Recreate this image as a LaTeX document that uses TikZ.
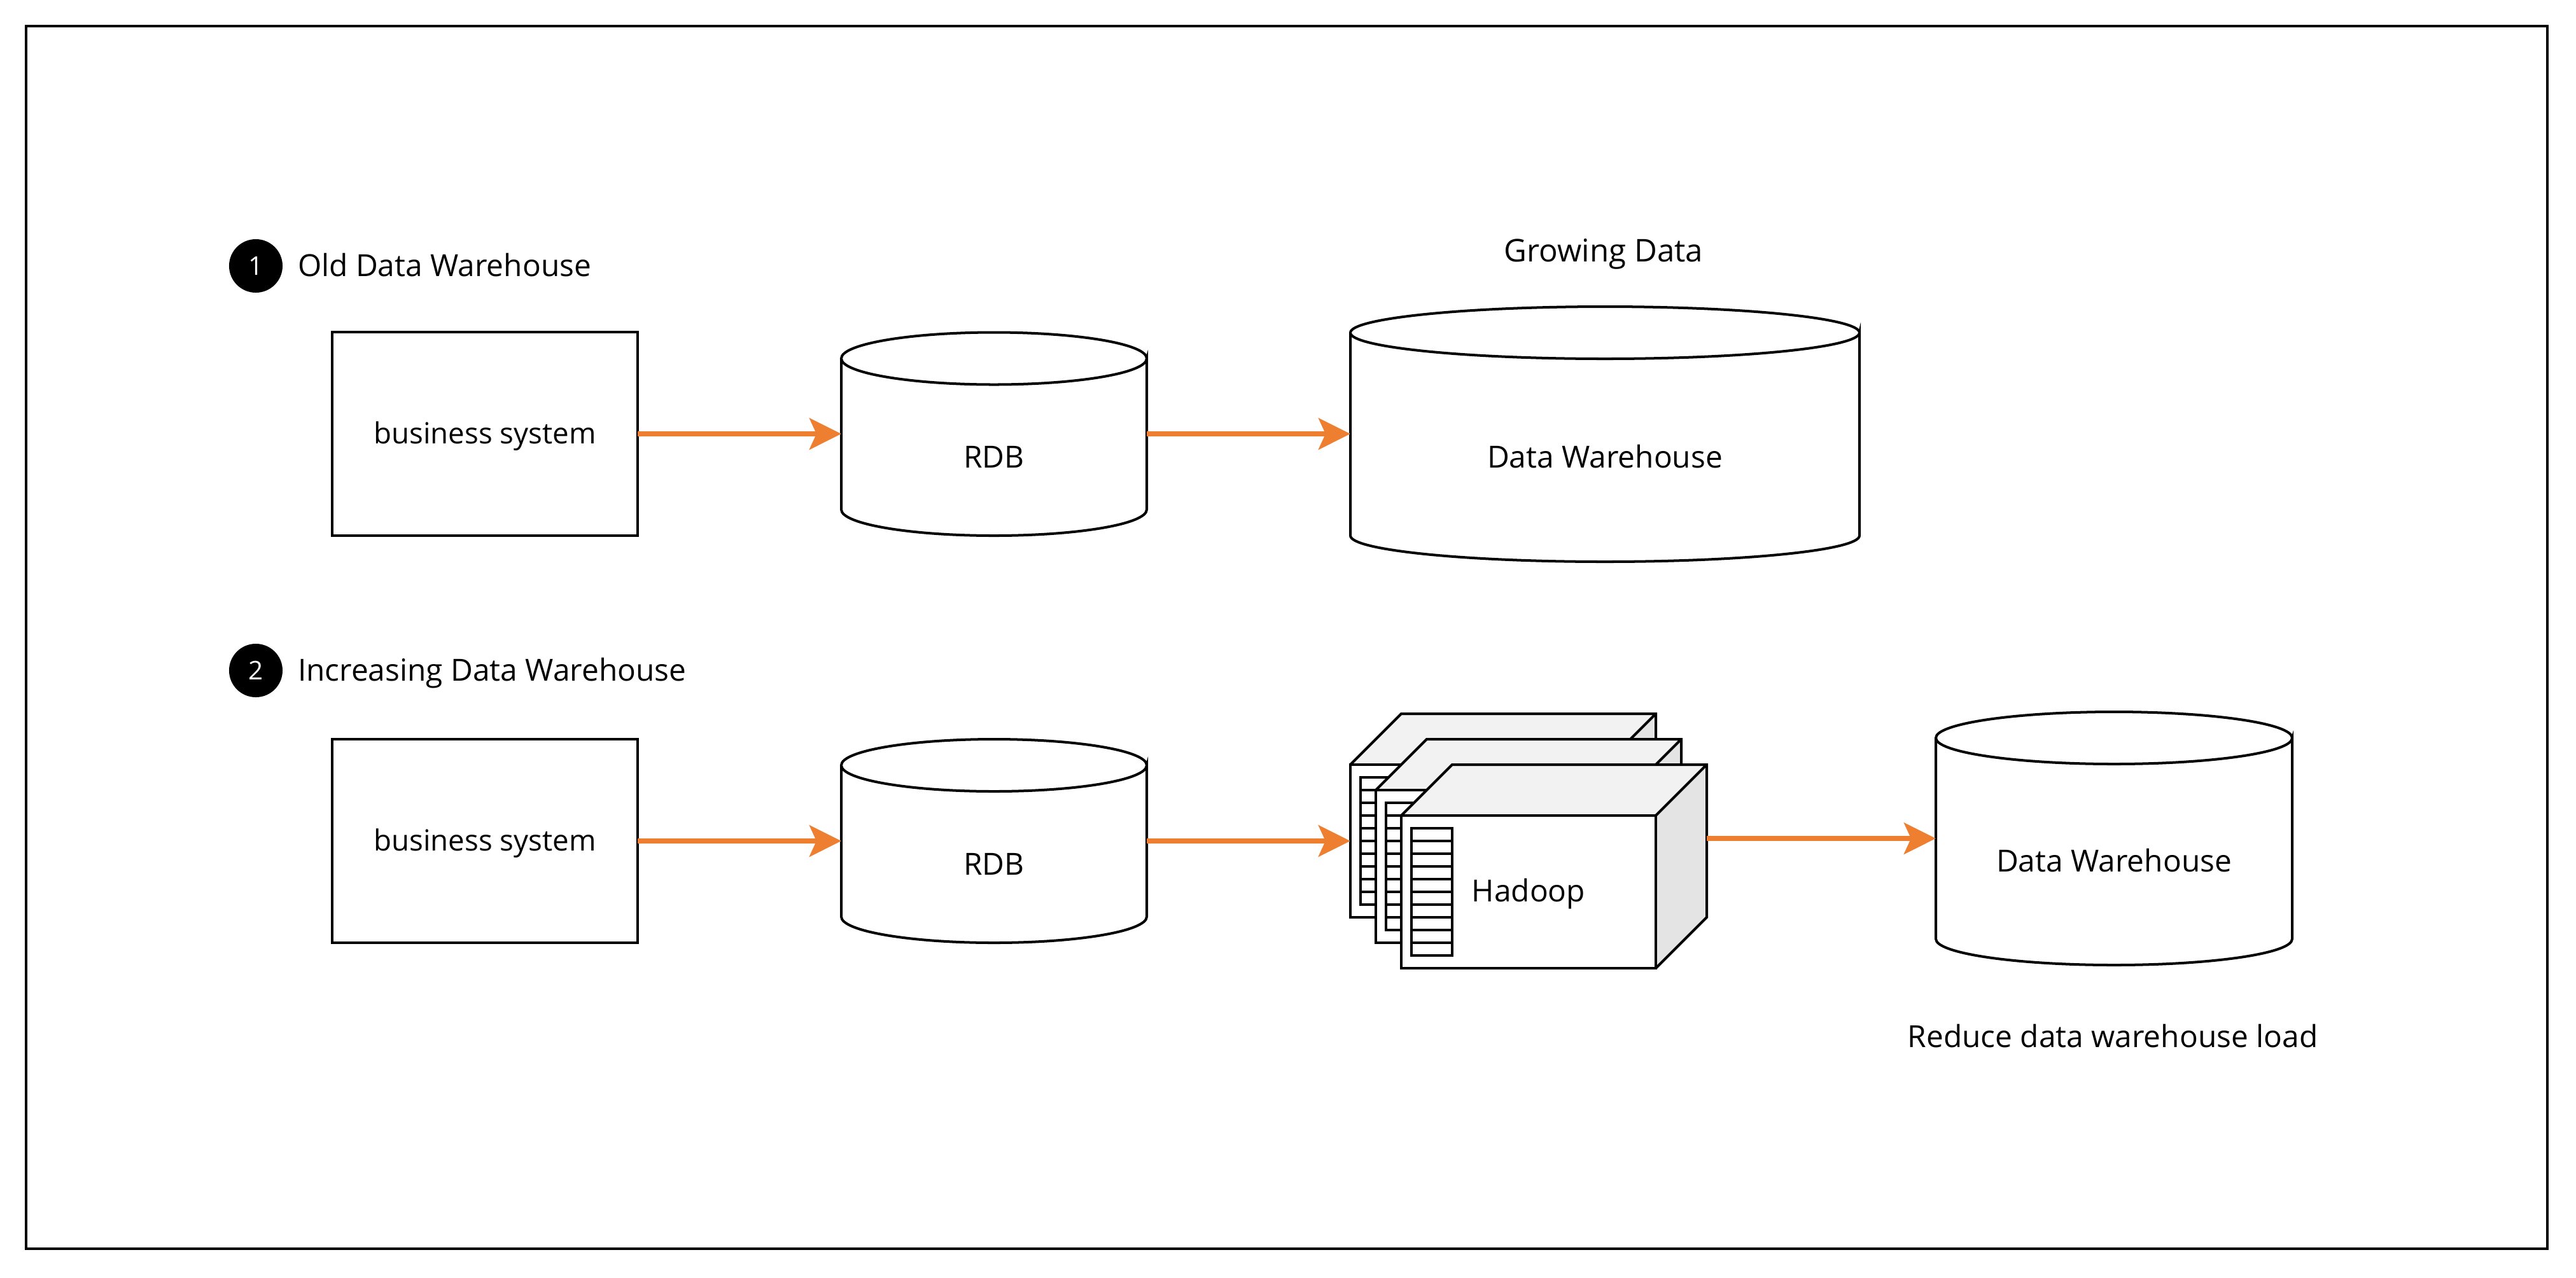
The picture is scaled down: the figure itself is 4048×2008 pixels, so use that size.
\documentclass[tikz,border=0pt]{standalone}
\usepackage{fontspec}
\setmainfont{Open Sans}
\usetikzlibrary{arrows.meta}
\definecolor{flow}{HTML}{EE7F31}
\definecolor{topface}{HTML}{F2F2F2}
\definecolor{sideface}{HTML}{E4E4E4}
\tikzset{
  x=0.01cm,y=-0.01cm,
  every node/.style={font=\fontsize{13.6}{16}\selectfont,inner sep=0pt,outer sep=0pt},
  line/.style={draw=black,line width=1.14pt,line join=miter},
  flowarrow/.style={draw=flow,line width=2.28pt,-{Stealth[length=14.2pt,width=14pt,inset=3.1pt,flow]}},
  badge/.style={circle,fill=black,text=white,minimum size=0.84cm,font=\fontsize{11.5}{14}\selectfont},
  sysbox/.style={line,minimum width=4.8cm,minimum height=3.2cm,font=\fontsize{13}{16}\selectfont,text height=3.7mm,text depth=0.7mm},
}
% name, x1, y1, x2, y2, ry, label, label y
\newcommand{\cylnode}[8]{%
  \pgfmathsetmacro{\cxa}{#2}\pgfmathsetmacro{\cxb}{#4}\pgfmathsetmacro{\cya}{#3}\pgfmathsetmacro{\cyb}{#5}\pgfmathsetmacro{\cry}{#6}%
  \pgfmathsetmacro{\cmx}{(\cxa+\cxb)/2}\pgfmathsetmacro{\crx}{(\cxb-\cxa)/2}%
  \pgfmathsetmacro{\ckx}{0.5523*\crx}\pgfmathsetmacro{\cky}{0.5523*\cry}%
  \pgfmathsetmacro{\cwd}{(\cxb-\cxa)*0.01}\pgfmathsetmacro{\chg}{(\cyb-\cya)*0.01}%
  \draw[line,fill=white] (\cxa,\cya+\cry) -- (\cxa,\cyb-\cry)
    .. controls (\cxa,\cyb-\cry+\cky) and (\cmx-\ckx,\cyb) .. (\cmx,\cyb)
    .. controls (\cmx+\ckx,\cyb) and (\cxb,\cyb-\cry+\cky) .. (\cxb,\cyb-\cry)
    -- (\cxb,\cya+\cry)
    .. controls (\cxb,\cya+\cry+\cky) and (\cmx+\ckx,\cya+2*\cry) .. (\cmx,\cya+2*\cry)
    .. controls (\cmx-\ckx,\cya+2*\cry) and (\cxa,\cya+\cry+\cky) .. (\cxa,\cya+\cry)
    .. controls (\cxa,\cya+\cry-\cky) and (\cmx-\ckx,\cya) .. (\cmx,\cya)
    .. controls (\cmx+\ckx,\cya) and (\cxb,\cya+\cry-\cky) .. (\cxb,\cya+\cry);
  \node[minimum width=\cwd cm,minimum height=\chg cm] (#1) at (\cmx,{(\cya+\cyb)/2}) {};
  \node (#1t) at (\cmx,#8) {#7};
}
% name, front-left x, front-top y
\newcommand{\hadoopbox}[3]{%
  \pgfmathsetmacro{\hx}{#2}\pgfmathsetmacro{\hy}{#3}%
  \fill[sideface] (\hx+400,\hy) -- (\hx+480,\hy-80) -- (\hx+480,\hy+160) -- (\hx+400,\hy+240) -- cycle;
  \fill[topface] (\hx,\hy) -- (\hx+80,\hy-80) -- (\hx+480,\hy-80) -- (\hx+400,\hy) -- cycle;
  \node[line,fill=white,minimum width=4cm,minimum height=2.4cm] (#1) at (\hx+200,\hy+120) {};
  \draw[line] (\hx,\hy) -- (\hx+80,\hy-80) -- (\hx+480,\hy-80) -- (\hx+480,\hy+160) -- (\hx+400,\hy+240) (\hx+400,\hy) -- (\hx+480,\hy-80);
  \draw[line] (\hx+16,\hy+20) rectangle (\hx+80,\hy+220);
  \foreach \r in {1,...,9} {\draw[line] (\hx+16,\hy+20+20*\r) -- (\hx+80,\hy+20+20*\r);}
}
\begin{document}
\begin{tikzpicture}
\useasboundingbox (0,0) rectangle (4048,2008);
\fill[white] (0,0) rectangle (4048,2008);
\node[line,minimum width=39.6cm,minimum height=19.2cm] (frame) at (2022,1002) {};

\node[badge] (b1) at (402,418) {1};
\node[anchor=west] (t1) at (468,417) {Old Data Warehouse};
\node[badge] (b2) at (402,1054) {2};
\node[anchor=west] (t2) at (468,1058) {Increasing Data Warehouse};
\node[font=\fontsize{14}{16}\selectfont] (t3) at (2520,399) {Growing Data};
\node (t4) at (3320,1629) {Reduce data warehouse load};

\node[sysbox] (sys1) at (762,682) {business system};
\node[sysbox] (sys2) at (762,1322) {business system};

\cylnode{rdb1}{1322}{522.5}{1802}{842}{41}{RDB}{718}
\cylnode{dw1}{2122}{482}{2922}{883}{41}{Data Warehouse}{718}
\cylnode{rdb2}{1322}{1162}{1802}{1482}{41}{RDB}{1358}
\cylnode{dw2}{3042}{1119}{3602}{1517}{41}{Data Warehouse}{1353}

\hadoopbox{h1}{2122}{1202}
\hadoopbox{h2}{2162}{1242}
\hadoopbox{h3}{2202}{1282}
\node (ht) at (2402,1405) {Hadoop};

\coordinate (h1w) at (h1.west |- sys2.east);
\coordinate (h3e) at (2682,1318);
\draw[flowarrow] (sys1.east) -- (rdb1.west |- sys1.east);
\draw[flowarrow] (rdb1.east |- sys1.east) -- (dw1.west |- sys1.east);
\draw[flowarrow] (sys2.east) -- (rdb2.west |- sys2.east);
\draw[flowarrow] (rdb2.east |- sys2.east) -- (h1w);
\draw[flowarrow] (h3e) -- (dw2.west |- h3e);
\end{tikzpicture}
\end{document}
